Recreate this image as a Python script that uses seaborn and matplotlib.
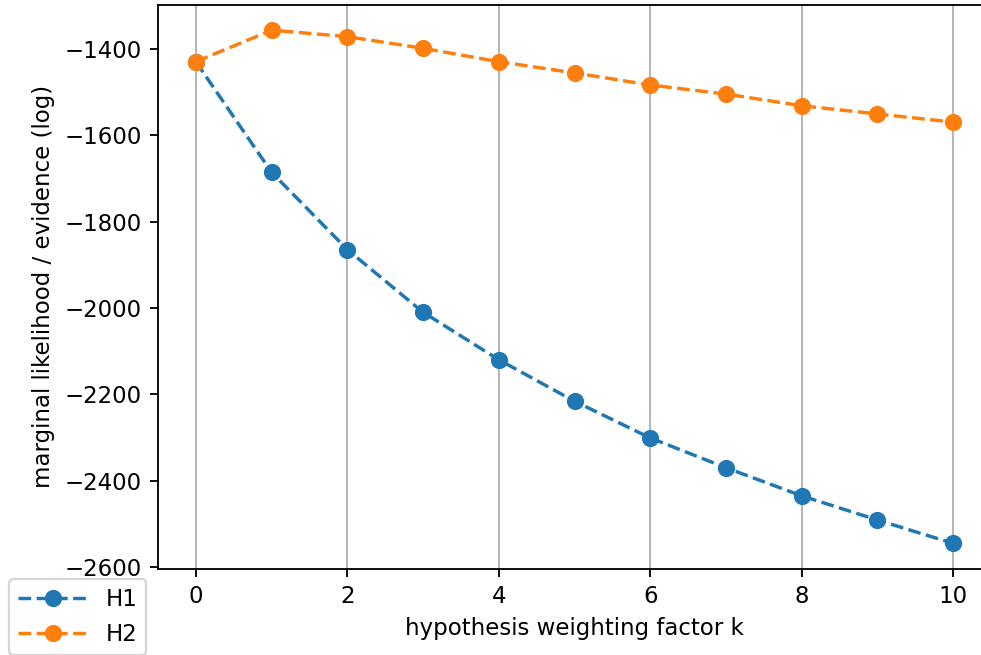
import pandas as pd
import matplotlib
matplotlib.use("Agg")
import matplotlib.pyplot as plt
import seaborn as sns

# values
k_values = [0, 1, 2, 3, 4, 5, 6, 7, 8, 9, 10]
h1_evidence = [-1430, -1686, -1865, -2010, -2120, -2216, -2301, -2370, -2435, -2491, -2545]
h2_evidence = [-1430, -1357, -1372, -1399, -1430, -1456, -1484, -1505, -1532, -1551, -1570]
labels = ["H1", "H2"]

df = pd.concat([
    pd.DataFrame({"k": k_values, "evidence": h1_evidence, "hypothesis": labels[0]}),
    pd.DataFrame({"k": k_values, "evidence": h2_evidence, "hypothesis": labels[1]}),
])

dpi = 165
fig = plt.figure(figsize=(981 / dpi, 655 / dpi), dpi=dpi)
ax = fig.add_axes([158 / 981, 1 - 569 / 655, (991 - 158) / 981, (569 - 4.5) / 655])

sns.lineplot(data=df, x="k", y="evidence", hue="hypothesis",
             palette=["#1f77b4", "#ff7f0e"], marker="o", linestyle="--",
             markersize=6.5, linewidth=1.5, legend=False, ax=ax)

# matplotlib-style markers (edge same colour as face)
for line in ax.lines:
    line.set_markeredgecolor(line.get_color())
    line.set_markeredgewidth(1)

ax.set_xticks([0, 2, 4, 6, 8, 10])
ax.set_yticks([-2600, -2400, -2200, -2000, -1800, -1600, -1400])
ax.grid(axis="x")
ax.set_xlabel("hypothesis weighting factor k")
ax.set_ylabel("marginal likelihood / evidence (log)")

ax.legend(ax.lines, labels, loc="upper left",
          bbox_to_anchor=(9 / 981, 1 - 579 / 655),
          bbox_transform=fig.transFigure, borderaxespad=0,
          handlelength=3.0)

fig.savefig("out.png", dpi=dpi)
